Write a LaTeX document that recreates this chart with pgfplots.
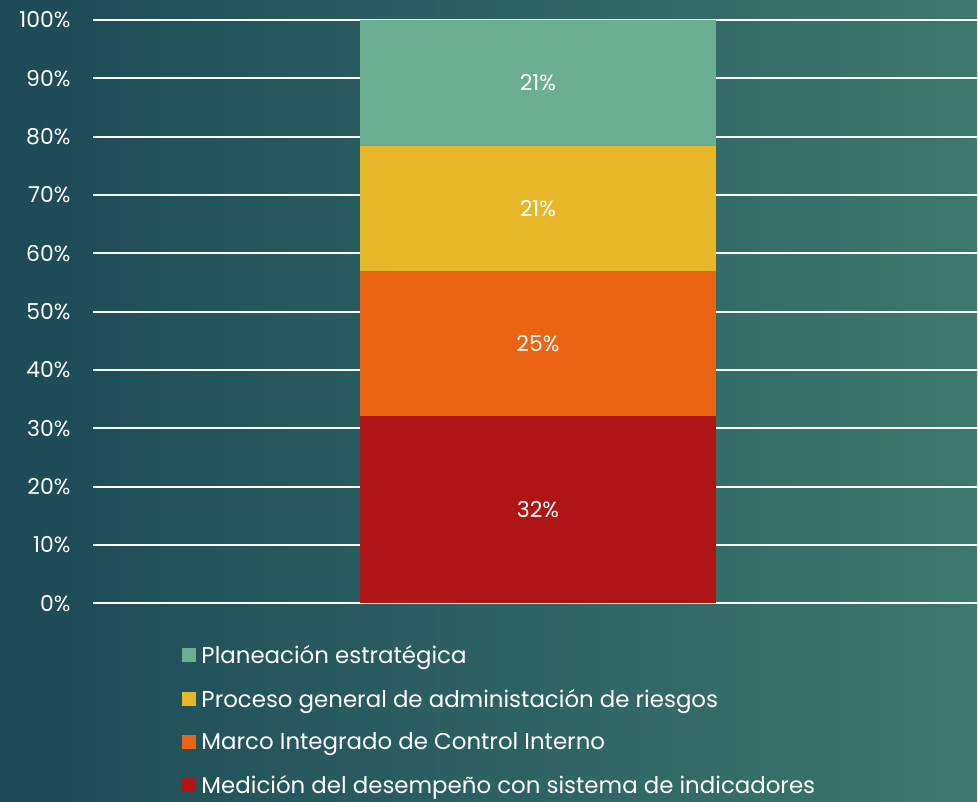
\documentclass[border=0pt]{standalone}
\usepackage{pgfplots}
\pgfplotsset{compat=1.18}
\usepackage{fontspec}
\setmainfont{Poppins}
\definecolor{bgL}{HTML}{1C4A56}
\definecolor{bgR}{HTML}{3D786D}
\definecolor{cGreen}{HTML}{6BAE91}
\definecolor{cYellow}{HTML}{E6B829}
\definecolor{cOrange}{HTML}{E96514}
\definecolor{cRed}{HTML}{B01515}

\begin{document}
\begin{tikzpicture}[x=1bp,y=1bp]
\shade[left color=bgL, right color=bgR] (0,0) rectangle (978,802);
\begin{axis}[
  at={(93bp,198bp)}, anchor=south west,
  scale only axis, width=885bp, height=584bp,
  ybar stacked, bar width=357bp,
  xmin=0, xmax=1, ymin=0, ymax=100,
  axis line style={draw=none},
  xtick=\empty,
  ytick={0,10,...,100},
  major tick length=0pt,
  ymajorgrids, grid style={white, line width=2bp},
  yticklabel={\pgfmathprintnumber{\tick}\%},
  /pgf/number format/assume math mode=true,
  yticklabel style={font=\fontsize{22}{26}\selectfont, text=white, xshift=-19bp},
  point meta=explicit symbolic,
  nodes near coords,
  every node near coord/.append style={anchor=center, text=white, font=\fontsize{22}{26}\selectfont},
  reverse legend,
  legend cell align=left,
  legend style={at={(0.1,-0.072)}, anchor=north west, draw=none, fill=none,
    text=white, font=\fontsize{23}{27}\selectfont, row sep=24bp,
    inner sep=0bp, nodes={inner xsep=6bp, inner ysep=0bp}},
  legsq/.style={legend image code/.code={\fill[##1] (0bp,-7bp) rectangle (14bp,7bp);}},
]
\addplot+[draw=none, fill=cRed, legsq]
  coordinates {(0.5034,32.2) [32\%]};
\addplot+[draw=none, fill=cOrange, legsq]
  coordinates {(0.5034,24.8) [25\%]};
\addplot+[draw=none, fill=cYellow, legsq]
  coordinates {(0.5034,21.4) [21\%]};
\addplot+[draw=none, fill=cGreen, legsq]
  coordinates {(0.5034,21.6) [21\%]};
\legend{Medición del desempeño con sistema de indicadores,
  Marco Integrado de Control Interno,
  Proceso general de administación de riesgos,
  Planeación estratégica}
\end{axis}
\end{tikzpicture}
\end{document}
